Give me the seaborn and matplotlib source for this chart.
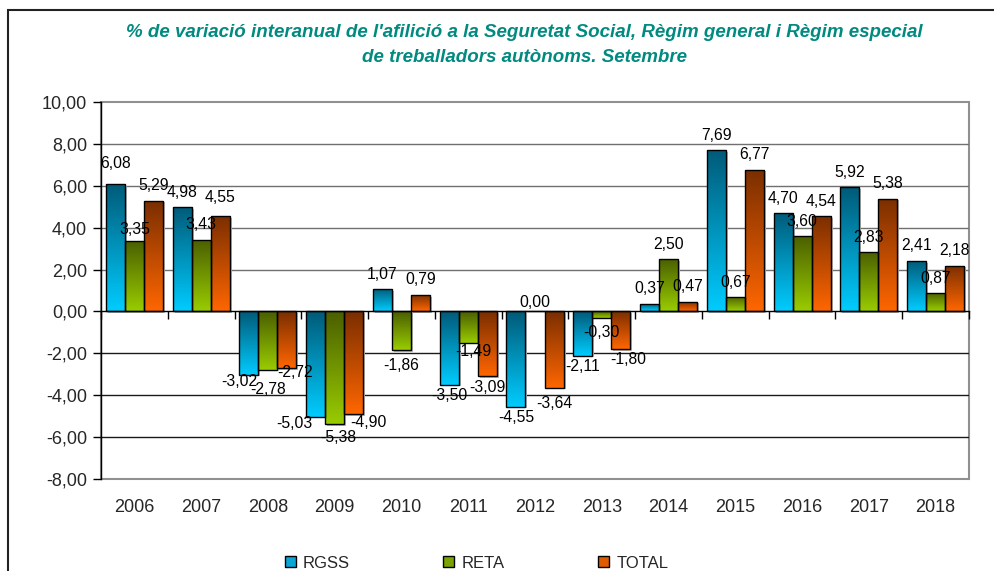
import numpy as np
import pandas as pd
import matplotlib
matplotlib.use("Agg")
import matplotlib.pyplot as plt
import seaborn as sns
from matplotlib.colors import LinearSegmentedColormap
from matplotlib.patches import Patch, Rectangle
import matplotlib.transforms as mtransforms

years = ["2006", "2007", "2008", "2009", "2010", "2011", "2012",
         "2013", "2014", "2015", "2016", "2017", "2018"]
rgss = [6.08, 4.98, -3.02, -5.03, 1.07, -3.50, -4.55, -2.11, 0.37, 7.69, 4.70, 5.92, 2.41]
reta = [3.35, 3.43, -2.78, -5.38, -1.86, -1.49, 0.00, -0.30, 2.50, 0.67, 3.60, 2.83, 0.87]
total = [5.29, 4.55, -2.72, -4.90, 0.79, -3.09, -3.64, -1.80, 0.47, 6.77, 4.54, 5.38, 2.18]
series_names = ["RGSS", "RETA", "TOTAL"]
yticks = [-8, -6, -4, -2, 0, 2, 4, 6, 8, 10]
title = ("% de variació interanual de l'afilició a la Seguretat Social, Règim general i Règim especial\n"
         "de treballadors autònoms. Setembre")

grad = {
    "RGSS": ("#005a78", "#00ccff"),
    "RETA": ("#4a5e00", "#99cc00"),
    "TOTAL": ("#7a2e00", "#ff6600"),
}
mid = {"RGSS": "#0aa6d6", "RETA": "#7aa400", "TOTAL": "#e05a00"}

# label placement nudges (pixels): (series, year) -> (dx, center distance from bar end)
nudge = {
    ("RGSS", "2006"): (0, 21),
    ("RGSS", "2008"): (-10, 7), ("RETA", "2008"): (0, 20), ("TOTAL", "2008"): (8, 4),
    ("RGSS", "2009"): (-21, 7), ("RETA", "2009"): (4, 13), ("TOTAL", "2009"): (15, 8),
    ("RETA", "2010"): (0, 15), ("RETA", "2011"): (5, 9),
    ("TOTAL", "2012"): (0, 16), ("RETA", "2012"): (0, 9),
    ("RETA", "2013"): (0, 15), ("TOTAL", "2013"): (7, 10),
    ("TOTAL", "2007"): (0, 19), ("RETA", "2006"): (0, 12),
}

df = pd.DataFrame({"year": years * 3,
                   "value": rgss + reta + total,
                   "series": sum([[s] * len(years) for s in series_names], [])})

sns.set_style("white")
plt.rcParams["font.family"] = ["Liberation Sans", "DejaVu Sans"]

fig = plt.figure(figsize=(9.95, 5.71), dpi=100)
ax = fig.add_axes([101 / 995, 1 - 479 / 571, (969 - 101) / 995, (479 - 102) / 571])

sns.barplot(data=df, x="year", y="value", hue="series", order=years,
            hue_order=series_names, palette=mid, width=0.855, gap=0,
            legend=False, ax=ax, zorder=3, saturation=1)

ax.set_ylim(-8, 10)
ax.set_xlim(-0.5, len(years) - 0.5)

g = np.linspace(0, 1, 256).reshape(-1, 1)
for cont, name in zip(ax.containers, series_names):
    c1, c2 = grad[name]
    cmap = LinearSegmentedColormap.from_list(name, [c1, c2])
    for bar, val, yr in zip(cont.patches, cont.datavalues, years):
        x0 = bar.get_x()
        w = bar.get_width()
        y0 = bar.get_y()
        h = bar.get_height()
        lo, hi = min(y0, y0 + h), max(y0, y0 + h)
        sh = Rectangle((x0 + 0.03, lo - 0.08), w, hi - lo, facecolor="#b8b8b8",
                       edgecolor="none", zorder=2.5)
        ax.add_patch(sh)
        if hi - lo > 0:
            im = ax.imshow(g, cmap=cmap, aspect="auto", extent=[x0, x0 + w, lo, hi],
                           origin="upper", zorder=3.1, interpolation="bilinear")
            im.set_clip_path(bar)
        bar.set_facecolor("none")
        bar.set_edgecolor("black")
        bar.set_linewidth(1.0)
        bar.set_zorder(3.2)
        txt = f"{val:.2f}".replace(".", ",")
        default = 15 if val >= 0 else 11
        dx, dist = nudge.get((name, yr), (0, default))
        dy = dist if val >= 0 else -dist
        ax.annotate(txt, (x0 + w / 2, val), xytext=(dx, dy), textcoords="offset pixels",
                    ha="center", va="center", fontsize=11.3, color="black", zorder=5)

ax.set_xlim(-0.5, len(years) - 0.5)
ax.set_ylim(-8, 10)

ax.set_yticks(yticks)
ax.set_yticklabels([f"{v:.2f}".replace(".", ",") for v in yticks], fontsize=13)
for v in yticks:
    if v > 0 and v < 10:
        ax.axhline(v, color="#707070", lw=1.0, zorder=1)
    elif v < 0 and v > -8:
        ax.axhline(v, color="#1a1a1a", lw=1.0, zorder=1)
ax.tick_params(axis="y", direction="out", length=6, width=1, color="black", pad=4, left=True)

# plot-area frame (gray)
ax.add_patch(Rectangle((0, 0), 1, 1, transform=ax.transAxes, fill=False,
                       edgecolor="#909090", lw=1.5, zorder=0.5, clip_on=False))
for s in ["top", "right"]:
    ax.spines[s].set_visible(False)
ax.spines["left"].set_color("black")
ax.spines["left"].set_linewidth(1.0)
ax.spines["left"].set_zorder(4)
ax.spines["bottom"].set_position(("data", 0))
ax.spines["bottom"].set_color("black")
ax.spines["bottom"].set_linewidth(1.0)
ax.spines["bottom"].set_zorder(4)

ax.set_xticks(np.arange(len(years) + 1) - 0.5)
ax.set_xticklabels([])
ax.tick_params(axis="x", direction="out", length=6, width=1, color="black", bottom=True)
ax.set_xlabel("")
ax.set_ylabel("")

trans = mtransforms.blended_transform_factory(ax.transData, ax.transAxes)
for i, y in enumerate(years):
    ax.text(i, -0.075, y, transform=trans, ha="center", va="center", fontsize=13)

fig.text(0.527, 1 - 45 / 571, title, ha="center", va="center", fontsize=13.5,
         style="italic", weight="bold", color="#008a80", linespacing=1.6)

handles = [Patch(facecolor=mid[n], edgecolor="black", label=n) for n in series_names]
fig.legend(handles=handles, loc="center", bbox_to_anchor=(0.479, 1 - 563 / 571), ncol=3,
           frameon=False, fontsize=12, handlelength=0.65, handleheight=0.65,
           columnspacing=5.6, handletextpad=0.45)

fig.patches.append(Rectangle((8 / 995, -0.05), 1.2, 1 - 10 / 571 + 0.05, transform=fig.transFigure,
                             fill=False, edgecolor="#222222", lw=1.5))

fig.savefig("out.png", dpi=100)
